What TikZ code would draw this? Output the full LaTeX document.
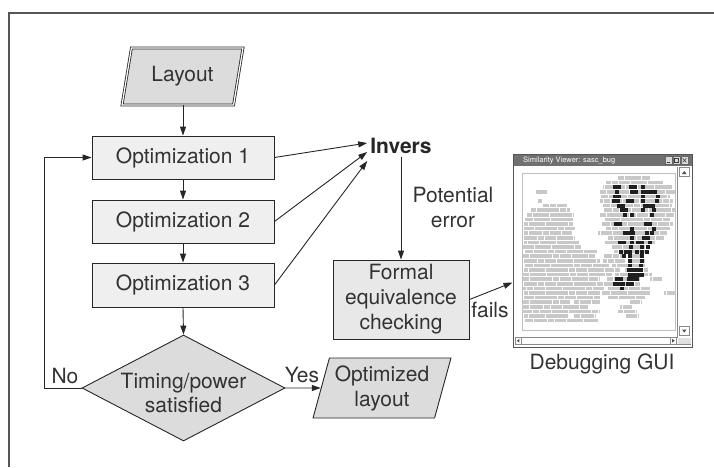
\documentclass[tikz,border=0pt]{standalone}
\usepackage{fontspec}
\setmainfont{TeX Gyre Heros}
\usetikzlibrary{arrows.meta,shapes.geometric,calc}
\definecolor{ink}{HTML}{262626}
\definecolor{txt}{HTML}{333333}
\definecolor{procfill}{HTML}{EFEFEF}
\definecolor{iofill}{HTML}{DCDCDC}
\definecolor{checkfill}{HTML}{E8E8E8}
\definecolor{framegray}{HTML}{555555}
\definecolor{titlebar}{HTML}{707070}
\definecolor{brick}{HTML}{C8C8C8}
\definecolor{winline}{HTML}{8A8A8A}
\tikzset{
  proc/.style={draw=ink, fill=procfill, line width=0.9pt, minimum width=182pt,
    minimum height=43pt, inner sep=0pt, text=txt},
  iobox/.style={trapezium, trapezium stretches=true, draw=ink, fill=iofill,
    line width=0.9pt, inner sep=0pt, text=txt, align=center},
  lbl/.style={text=txt, inner sep=0pt, align=center},
  arr/.style={draw=ink, line width=0.9pt, -{Triangle[length=9pt,width=6pt]}},
  brickrow/.style={line width=3.6pt, draw=brick,
    dash pattern=on 9pt off 0.9pt on 13pt off 0.9pt on 6pt off 0.9pt on 11pt off 0.9pt on 16pt off 0.9pt},
}
\begin{document}
\begin{tikzpicture}[x=1pt, y=-1pt, font=\fontsize{21}{25}\selectfont]
\useasboundingbox (0,0) rectangle (714,467);

% open frame: top and left rules
\draw[framegray, line width=1.2pt] (714,13) -- (9,13) -- (9,467);

% main flow
\node[iobox, double=white, double distance=1.2pt, line width=0.8pt,
  trapezium left angle=74, trapezium right angle=106,
  minimum width=121pt, minimum height=57pt] (layout) at (182.5,76.5) {Layout};
\node[proc] (opt1) at (183,157.5) {Optimization 1};
\node[proc] (opt2) at (183,221.5) {Optimization 2};
\node[proc, minimum height=44pt] (opt3) at (183,285) {Optimization 3};
\node[diamond, draw=ink, fill=iofill, line width=0.9pt, inner sep=0pt,
  minimum width=203pt, minimum height=106pt] (dec) at (183.5,388) {};
\node[lbl, font=\fontsize{21}{23.5}\selectfont] (dectext) at (183.5,393) {Timing/power\\satisfied};
\node[iobox, trapezium left angle=72, trapezium right angle=108,
  minimum width=138pt, minimum height=60pt] (optlay) at (382,388) {Optimized\\layout};

\draw[arr] (opt1.north |- layout.south) -- (opt1.north);
\draw[arr] (opt1.south) -- (opt2.north);
\draw[arr] (opt2.south) -- (opt3.north);
\draw[arr] (opt3.south) -- (dec.north);

% feedback loop and exit
\coordinate (loopx) at (44,388);
\draw[arr] (dec.west) -- (loopx) |- (opt1.west);
\node[lbl] (nolab) at (65,376) {No};
\draw[arr] (dec.east) -- (optlay.west);
\node[lbl] (yeslab) at (302,375) {Yes};

% equivalence checking branch
\node[lbl, inner sep=3pt, font=\fontsize{21}{25}\selectfont\bfseries, text=ink] (inv) at (401,146) {Invers};
\draw[arr] (opt1.east) -- ([yshift=3pt]inv.west);
\draw[arr] (opt2.east) -- ([yshift=-6pt]inv.west);
\draw[arr] (opt3.east) -- ([yshift=-15pt]inv.west);
\node[draw=ink, fill=checkfill, line width=0.9pt, minimum width=136pt,
  minimum height=79pt, inner sep=0pt, text=txt, align=center] (fec) at (401,299.5)
  {Formal\\equivalence\\checking};
\draw[arr] (inv.south) -- (fec.north);
\node[lbl] (potlab) at (453,207.5) {Potential\\error};

% debugging window
\node[draw=framegray, line width=1pt, fill=white, minimum width=179pt,
  minimum height=193pt, inner sep=0pt] (gui) at (602.5,250.5) {};
\draw[arr] (fec.east) -- ([yshift=-32pt]gui.west);
\node[lbl] (failslab) at (490,310) {fails};
\node[lbl] (guilab) at (602,364) {Debugging GUI};

% title bar
\fill[titlebar] (513.5,154.5) rectangle (691.5,166);
\node[anchor=west, text=white, inner sep=0pt, font=\fontsize{7.5}{8}\selectfont]
  (ttl) at (523,160.5) {Similarity Viewer: sasc\_bug};
\foreach \bx/\bn in {665/mn,673/mx,681/cl}{
  \draw[fill=white!85!black, draw=black!60, line width=0.4pt]
    (\bx,156.5) rectangle ++(7,7.5);
}
\draw[black!75, line width=0.8pt] (666.8,162.2) -- (670.2,162.2);
\draw[black!75, line width=0.6pt] (674.6,158.3) rectangle (678.4,162.3);
\draw[black!75, line width=0.6pt] (682.7,158.3) -- (686.3,162.3) (682.7,162.3) -- (686.3,158.3);

% scroll bars
\draw[winline, line width=0.5pt] (677.5,167) -- (677.5,337) -- (515,337);
\draw[winline, line width=0.5pt] (515,344.5) -- (691,344.5);
\draw[winline, line width=0.5pt] (679,167.5) rectangle (689.5,176);
\fill[black!70] (682,174) -- (686.5,174) -- (684.25,171) -- cycle;
\draw[winline, line width=0.5pt] (679,326) rectangle (689.5,335);
\fill[black!70] (682,329.5) -- (686.5,329.5) -- (684.25,332.5) -- cycle;
\draw[winline, line width=0.5pt] (515,337.5) rectangle (521,344);
\fill[black!70] (519.3,339) -- (519.3,342.5) -- (516.8,340.75) -- cycle;
\draw[winline, line width=0.5pt] (670,337.5) rectangle (676.5,344);
\fill[black!70] (672.2,339) -- (672.2,342.5) -- (674.7,340.75) -- cycle;
\fill[black!12] (678,337.5) rectangle (691,344);

% layout canvas
\draw[black!25, line width=0.6pt] (522,173) rectangle (675,330);
\foreach \k/\a/\b in {
  0/618/650, 1/606/663, 2/603/672,
  3/536/547, 3/600/675, 4/601/670,
  5/538/542, 5/600/673, 6/543/567, 6/603/672,
  7/531/570, 7/604/675, 8/527/574, 8/600/674,
  9/525/573, 9/605/670, 10/524/573, 10/602/673,
  11/524/575, 11/606/670, 12/524/572, 12/598/667,
  13/523/575, 13/608/664, 14/524/580, 14/605/655,
  15/523/582, 15/612/650, 16/525/597, 16/614/648,
  17/523/595, 17/604/624, 17/632/644,
  18/523/600, 18/603/625, 18/628/645,
  19/525/610, 19/612/628, 19/632/645,
  20/524/620, 20/624/648, 21/522/612, 21/615/652,
  22/523/600, 22/607/640, 22/650/662,
  23/523/615, 23/618/640, 24/523/605, 24/608/650,
  25/524/600, 25/602/650, 25/664/676,
  26/524/600, 26/608/645,
  27/523/570, 27/574/600, 27/630/642,
  28/522/588, 28/620/632,
  29/522/600, 29/618/636,
  30/524/568, 30/574/596, 30/625/638,
  31/525/598}{
  \pgfmathsetmacro\ry{178+4.6*\k}
  \pgfmathsetmacro\ph{mod(\a*7+\k*11,55)}
  \draw[brickrow, dash phase=\ph pt] (\a,\ry) -- (\b,\ry);
}
\foreach \k/\xs in {
  2/{613,617,629,633,641},
  3/{615,630,634,641,645,649,653},
  4/{613,617,641,656},
  5/{612,616,626,630,641,655},
  6/{617,621,643,647,651},
  7/{620,624,641,652},
  8/{623,630,650},
  10/{614,618,644,648},
  11/{630,652},
  12/{623,627,631,645,650},
  13/{630,642,646},
  14/{618,622,630,636,640,648},
  15/{629,640,646},
  16/{619,624,628,635,640,645},
  17/{622,628,640},
  18/{628,640},
  19/{628,639},
  20/{627,631,635,639},
  21/{628,632,636,640},
  22/{615,619,627,631,635},
  23/{613,617,621,626,630},
  24/{620}}{
  \pgfmathsetmacro\ry{178+4.6*\k-1.9}
  \foreach \x in \xs {
    \fill[black!88] (\x,\ry) rectangle ++(3.8,3.8);
  }
}
\end{tikzpicture}
\end{document}
